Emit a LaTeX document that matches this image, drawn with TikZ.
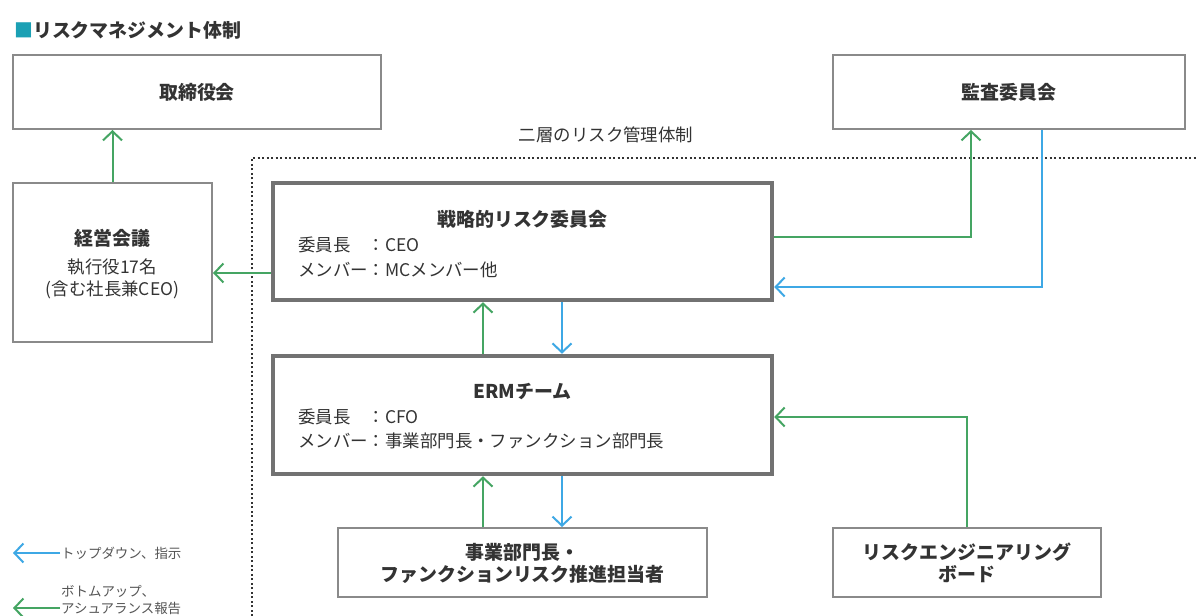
\documentclass[tikz,border=0pt]{standalone}
\usepackage{fontspec}
\setmainfont{Noto Sans CJK JP}
\usetikzlibrary{arrows.meta}
\definecolor{tx}{HTML}{333333}
\definecolor{lg}{HTML}{555555}
\definecolor{bord}{HTML}{8A8A8A}
\definecolor{thick}{HTML}{727272}
\definecolor{gr}{HTML}{45A563}
\definecolor{bl}{HTML}{3EA8E5}
\definecolor{teal}{HTML}{1BA0B4}
\tikzset{
  thinbox/.style={draw=bord, line width=2bp, fill=white, inner sep=0pt},
  thickbox/.style={draw=thick, line width=4.5bp, fill=white, inner sep=0pt},
  ttl/.style={text=tx, inner sep=0pt, font=\fontsize{19}{22}\selectfont\bfseries},
  body/.style={text=tx, inner sep=0pt, font=\fontsize{17.5}{21}\selectfont},
  leg/.style={text=lg, inner sep=0pt, anchor=west, font=\fontsize{13.5}{16}\selectfont},
  tip/.style={-{Straight Barb[length=9bp,width=19bp,line width=2bp]}},
  garrow/.style={tip, draw=gr, line width=2bp},
  barrow/.style={tip, draw=bl, line width=2bp},
}
\begin{document}
\begin{tikzpicture}[x=1bp,y=-1bp]
\useasboundingbox[fill=white] (0,0) rectangle (1196,616);

% title
\node[anchor=west, text=tx, inner sep=0pt, font=\fontsize{19}{22}\selectfont\bfseries] (title) at (14,30) {{\color{teal}■}リスクマネジメント体制};

% dotted region
\draw[draw=black!80, line width=2bp, dash pattern=on 2bp off 2.5bp] (252,616) |- (1196,158);
\node[body] (niso) at (606,135) {二層のリスク管理体制};

% boxes
\node[thinbox, minimum width=368bp, minimum height=74bp] (tori) at (197,92) {};
\node[ttl] (toriT) at (tori.center) {取締役会};
\node[thinbox, minimum width=352bp, minimum height=74bp] (kansa) at (1009,92) {};
\node[ttl] (kansaT) at (kansa.center) {監査委員会};

\node[thinbox, minimum width=199bp, minimum height=159bp] (keiei) at (112.5,262.5) {};
\node[ttl] (keieiT) at (112.5,238) {経営会議};
\node[body] (keiei1) at (112.5,267) {執行役17名};
\node[body] (keiei2) at (112.5,290) {(含む社長兼CEO)};

\node[thickbox, minimum width=499bp, minimum height=117bp] (sen) at (522.5,241.5) {};
\node[ttl] (senT) at (522.5,219) {戦略的リスク委員会};
\node[body, anchor=west] (sen1) at (298,245) {\makebox[4em][l]{委員長}：CEO};
\node[body, anchor=west] (sen2) at (298,270) {メンバー：MCメンバー他};

\node[thickbox, minimum width=499bp, minimum height=118bp] (erm) at (522.5,415) {};
\node[ttl] (ermT) at (522.5,391) {ERMチーム};
\node[body, anchor=west] (erm1) at (298,417) {\makebox[4em][l]{委員長}：CFO};
\node[body, anchor=west] (erm2) at (298,441) {メンバー：事業部門長・ファンクション部門長};

\node[thinbox, minimum width=369bp, minimum height=69bp] (jig) at (522.5,562.5) {};
\node[ttl, align=center] (jigT) at (522.5,563) {事業部門長・\\ファンクションリスク推進担当者};

\node[thinbox, minimum width=268bp, minimum height=69bp] (board) at (967,562.5) {};
\node[ttl, align=center] (boardT) at (967,563) {リスクエンジニアリング\\ボード};

% connectors
\draw[garrow] (keiei.north) -- (keiei.north |- tori.south);
\draw[garrow] (sen.west |- 0,273) -- (keiei.east |- 0,273);
\draw[garrow] (sen.east |- 0,237) -| (971,0 |- kansa.south);
\draw[barrow] (1042,0 |- kansa.south) |- (sen.east |- 0,287);
\draw[garrow] (483,0 |- erm.north) -- (483,0 |- sen.south);
\draw[barrow] (562,0 |- sen.south) -- (562,0 |- erm.north);
\draw[garrow] (483,0 |- jig.north) -- (483,0 |- erm.south);
\draw[barrow] (562,0 |- erm.south) -- (562,0 |- jig.north);
\draw[garrow] (board.north) |- (erm.east |- 0,417);

% legend
\coordinate (lb1) at (60,553); \coordinate (lb2) at (13,553);
\coordinate (lg1) at (60,608); \coordinate (lg2) at (13,608);
\draw[barrow] (lb1) -- (lb2);
\draw[garrow] (lg1) -- (lg2);
\node[leg] (legB) at (61,553) {トップダウン、指示};
\node[leg] (legG1) at (61,591) {ボトムアップ、};
\node[leg] (legG2) at (61,608) {アシュアランス報告};
\end{tikzpicture}
\end{document}
